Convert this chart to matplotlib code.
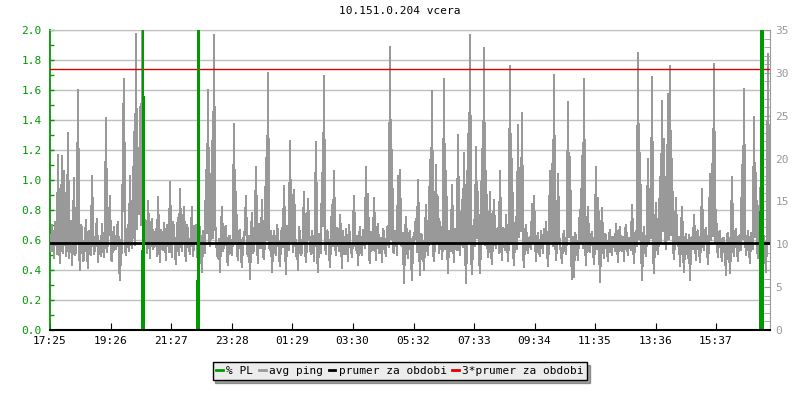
import numpy as np
import matplotlib
matplotlib.use("Agg")
import matplotlib.pyplot as plt
from matplotlib.lines import Line2D
from matplotlib.ticker import MultipleLocator, FormatStrFormatter

# avg ping [ms], one sample every 2 minutes from 17:25
ping = [
    11.0, 9.2, 12.3, 10.5, 8.4, 12.6, 11.6, 8.9, 20.4, 10.2, 7.8, 11.4, 20.3, 9.0, 18.5, 12.1, 8.6, 10.0, 23.0, 8.4,
    10.1, 12.7, 7.6, 10.9, 17.7, 8.7, 9.4, 11.8, 28.0, 9.9, 7.0, 12.2, 11.9, 8.1, 8.3, 10.6, 12.8, 9.3, 7.2, 11.5,
    10.6, 8.8, 18.0, 11.2, 8.9, 9.7, 11.7, 12.9, 7.9, 10.4, 10.2, 8.6, 12.4, 9.8, 8.5, 11.3, 24.7, 9.1, 10.8, 12.0,
    15.6, 8.3, 8.1, 10.7, 12.0, 9.4, 9.5, 11.9, 12.6, 8.0, 5.8, 10.5, 9.0, 21.7, 29.3, 9.6, 8.7, 11.1, 12.2, 9.2,
    18.0, 10.3, 9.6, 12.4, 23.1, 9.9, 34.5, 11.8, 18.0, 13.5, 26.0, 12.2, 35.0, 10.9, 9.3, 12.8, 11.6, 9.0, 15.0, 11.4,
    8.4, 12.1, 13.0, 9.5, 9.8, 11.0, 11.8, 8.6, 15.5, 10.2, 7.9, 11.7, 11.2, 9.3, 12.5, 10.6, 8.2, 12.3, 10.7, 9.1,
    17.3, 10.1, 8.5, 12.6, 11.9, 9.0, 7.7, 11.5, 13.1, 8.8, 16.5, 10.4, 9.2, 11.8, 14.4, 9.7, 8.0, 12.3, 11.3, 9.5,
    8.9, 11.1, 14.4, 8.6, 10.5, 12.0, 12.2, 9.1, 8.1, 10.8, 12.0, 9.4, 6.8, 11.6, 10.8, 9.0, 18.7, 11.3, 28.0, 10.2,
    9.8, 11.9, 22.0, 10.7, 34.4, 12.5, 11.0, 8.9, 8.4, 10.6, 6.8, 11.4, 14.3, 9.2, 9.9, 12.0, 12.1, 8.5, 7.6, 10.9,
    10.9, 9.4, 8.7, 11.6, 24.0, 10.0, 16.1, 9.3, 8.2, 11.5, 11.7, 8.8, 7.4, 10.7, 10.3, 12.2, 15.6, 9.1, 8.6, 11.0,
    6.0, 10.8, 13.7, 9.0, 9.5, 11.7, 19.0, 10.3, 7.8, 12.4, 11.0, 9.6, 15.2, 8.7, 8.3, 11.2, 20.1, 10.5, 30.0, 9.8,
    9.4, 11.6, 6.8, 10.1, 11.6, 9.2, 8.8, 12.3, 11.2, 8.9, 7.5, 11.0, 11.9, 9.7, 16.8, 10.6, 6.5, 12.1, 10.4, 9.3,
    22.0, 10.4, 15.7, 9.1, 16.3, 11.8, 8.6, 10.2, 7.0, 12.0, 11.1, 8.8, 9.1, 11.4, 16.1, 9.6, 7.9, 10.9, 15.3, 11.7,
    9.6, 8.9, 11.5, 10.3, 8.1, 12.4, 21.9, 9.5, 6.8, 11.2, 10.7, 9.0, 18.3, 12.1, 29.6, 10.0, 8.9, 11.6, 11.3, 9.4,
    7.4, 11.1, 14.6, 9.8, 18.5, 10.4, 8.7, 11.9, 10.6, 9.2, 13.4, 10.8, 7.2, 11.5, 10.0, 8.9, 11.8, 10.1, 8.0, 12.2,
    10.3, 9.5, 8.5, 11.3, 15.6, 10.6, 9.3, 11.0, 7.6, 10.5, 12.0, 9.1, 8.8, 11.7, 10.8, 9.6, 19.0, 10.2, 15.9, 8.7,
    7.8, 11.4, 10.5, 9.3, 15.4, 10.9, 8.2, 11.6, 12.4, 9.0, 9.5, 10.7, 7.9, 11.8, 11.2, 9.4, 8.6, 12.0, 12.1, 9.7,
    33.0, 10.6, 21.0, 9.2, 9.0, 11.5, 11.4, 8.8, 18.0, 10.3, 18.7, 9.9, 9.8, 11.3, 5.5, 10.8, 13.2, 9.6, 8.4, 11.0,
    11.6, 9.3, 5.8, 10.9, 10.2, 12.0, 13.0, 9.1, 17.5, 10.5, 6.4, 11.2, 11.0, 9.6, 7.0, 10.8, 14.6, 9.9, 8.7, 11.7,
    19.8, 10.4, 27.9, 9.4, 8.0, 11.1, 19.2, 10.2, 15.5, 9.0, 12.6, 11.3, 8.3, 10.6, 29.3, 9.5, 18.5, 10.9, 6.6, 11.5,
    10.7, 9.2, 16.9, 10.6, 7.9, 11.8, 11.5, 9.3, 22.7, 10.1, 8.8, 11.6, 15.2, 9.7, 20.6, 10.9, 5.5, 11.4, 22.9, 10.3,
    34.4, 9.6, 6.5, 11.2, 12.8, 9.8, 21.3, 10.7, 16.1, 9.1, 6.6, 11.0, 21.1, 10.4, 32.9, 9.9, 18.5, 11.3, 8.5, 10.0,
    16.1, 9.5, 7.7, 11.4, 15.2, 10.2, 9.6, 11.7, 11.9, 9.0, 18.5, 10.6, 8.2, 11.9, 11.1, 9.3, 13.4, 10.5, 8.1, 11.2,
    30.8, 10.0, 20.0, 9.7, 7.6, 11.5, 13.2, 9.4, 23.9, 10.8, 18.1, 11.6, 25.3, 9.2, 7.4, 11.0, 12.3, 9.8, 9.0, 10.7,
    10.8, 9.4, 14.7, 10.1, 15.6, 11.0, 8.0, 10.6, 11.3, 9.2, 8.6, 11.5, 10.4, 9.0, 11.8, 10.3, 12.6, 9.7, 7.5, 11.1,
    18.5, 10.4, 19.4, 9.8, 29.7, 11.3, 8.2, 10.0, 18.2, 11.2, 9.7, 9.3, 7.8, 10.7, 11.6, 9.5, 8.9, 11.4, 26.6, 10.9,
    20.2, 9.9, 6.0, 10.8, 6.2, 11.3, 10.9, 9.5, 8.2, 11.7, 14.0, 10.2, 20.3, 9.6, 29.3, 10.5, 7.6, 11.4, 14.4, 9.3,
    9.1, 11.0, 11.4, 9.8, 7.7, 10.6, 19.0, 9.4, 15.4, 11.1, 5.6, 10.3, 14.2, 9.7, 8.4, 11.2, 11.0, 9.5, 8.0, 10.8,
    11.7, 9.6, 8.8, 10.9, 10.3, 9.2, 12.4, 10.4, 7.9, 11.3, 12.0, 9.5, 9.2, 10.8, 8.1, 11.6, 12.2, 9.9, 8.7, 10.7,
    10.6, 9.3, 14.6, 10.5, 7.8, 11.2, 11.5, 9.8, 32.3, 10.6, 20.7, 11.0, 5.8, 10.2, 12.0, 9.4, 8.6, 11.5, 20.0, 10.1,
    16.5, 10.7, 29.5, 9.6, 6.6, 11.4, 14.8, 10.0, 8.9, 11.2, 17.8, 10.3, 26.7, 11.5, 22.3, 10.8, 9.5, 11.9, 27.5, 10.6,
    30.8, 11.1, 20.0, 9.9, 8.3, 11.3, 15.4, 10.2, 9.8, 10.9, 7.5, 11.0, 14.4, 9.7, 6.8, 10.5, 11.2, 9.4, 8.4, 11.1,
    5.8, 10.6, 10.8, 9.5, 13.4, 10.1, 8.2, 11.2, 11.6, 9.7, 7.9, 10.9, 16.5, 10.2, 9.3, 11.5, 11.9, 9.6, 7.7, 10.8,
    18.2, 10.5, 19.4, 11.0, 31.0, 10.3, 14.0, 9.8, 8.5, 11.4, 11.5, 9.2, 8.0, 10.7, 10.7, 9.5, 6.4, 11.1, 11.3, 9.9,
    6.6, 10.4, 17.9, 9.7, 8.6, 11.2, 11.8, 9.5, 8.1, 10.9, 11.1, 9.3, 19.2, 10.6, 28.1, 11.0, 8.8, 10.2, 11.6, 9.6,
    7.8, 11.3, 10.4, 9.4, 24.9, 10.8, 18.3, 9.9, 8.4, 11.2, 16.6, 10.0, 7.3, 10.7, 10.9, 9.5, 6.8, 11.4, 32.2, 10.3,
    21.0,
]
minutes = np.arange(len(ping)) * 2

# packet loss [%]
pl_minutes = [0, 185, 186, 186, 187, 295, 296, 297, 297, 298, 1421, 1423, 1424, 1425, 1426, 1440]
pl_values = [0, 0, 1.0, 3.0, 0, 0, 0.62, 1.0, 3.0, 0, 0, 3.0, 3.0, 3.0, 0, 0]

prumer = 10.15  # prumer za obdobi [ms]

tick_labels = ["17:25", "19:26", "21:27", "23:28", "01:29", "03:30",
               "05:32", "07:33", "09:34", "11:35", "13:36", "15:37"]
tick_minutes = [(int(t[:2]) * 60 + int(t[3:]) - (17 * 60 + 25)) % 1440 for t in tick_labels]

GREEN = "#009900"
GRAY = "#999999"
GRID = "#c0c0c0"
plt.rcParams["font.family"] = "DejaVu Sans Mono"
plt.rcParams["font.size"] = 8

fig = plt.figure(figsize=(8, 4), dpi=100)
ax = fig.add_axes([0.0625, 0.175, 0.9, 0.75])
ax2 = ax.twinx()
ax3 = ax.twinx()

# left axis: % PL scale, grid
ax.set_xlim(0, 1440)
ax.set_ylim(0, 2.0)
ax.yaxis.set_major_locator(MultipleLocator(0.2))
ax.yaxis.set_minor_locator(MultipleLocator(0.1))
ax.yaxis.set_major_formatter(FormatStrFormatter("%.1f"))
ax.grid(axis="y", color=GRID, linewidth=1)
ax.set_axisbelow(True)
ax.tick_params(axis="y", which="both", direction="in", length=3, color=GREEN,
               labelcolor=GREEN, width=1, pad=6)
ax.set_xticks(tick_minutes)
ax.set_xticklabels(tick_labels)
ax.tick_params(axis="x", direction="in", length=5, color="black", pad=4)
ax.spines["left"].set_color(GREEN)
ax.spines["left"].set_linewidth(1.3)
ax.spines["top"].set_color(GRID)
ax.spines["right"].set_visible(False)
ax.spines["bottom"].set_visible(False)

# right axis: ping in ms
ax2.set_ylim(0, 35)
ax2.plot(minutes, ping, color=GRAY, linewidth=0.9, antialiased=False)
ax2.axhline(prumer, color="black", linewidth=2)
ax2.axhline(3 * prumer, color="#dd0000", linewidth=1)
ax2.yaxis.set_major_locator(MultipleLocator(5))
ax2.yaxis.set_minor_locator(MultipleLocator(1))
ax2.tick_params(axis="y", which="both", direction="in", length=4, color=GRAY,
                labelcolor=GRAY, pad=4)
for s in ["left", "top", "bottom"]:
    ax2.spines[s].set_visible(False)
ax2.spines["right"].set_color(GRAY)

# packet loss on top
ax3.set_ylim(0, 2.0)
ax3.plot(pl_minutes, pl_values, color=GREEN, linewidth=1.1, antialiased=False)
ax3.set_yticks([])
for s in ["left", "top", "right"]:
    ax3.spines[s].set_visible(False)
ax3.spines["bottom"].set_color("black")
ax3.spines["bottom"].set_linewidth(1.5)
ax3.spines["bottom"].set_zorder(5)

fig.suptitle("10.151.0.204 vcera", y=0.985, fontsize=8)

handles = [Line2D([], [], color=GREEN, linewidth=2),
           Line2D([], [], color=GRAY, linewidth=2),
           Line2D([], [], color="black", linewidth=2),
           Line2D([], [], color="#dd0000", linewidth=2)]
labels = ["% PL", "avg ping", "prumer za obdobi", "3*prumer za obdobi"]
leg = fig.legend(handles, labels, loc="center", bbox_to_anchor=(0.5, 0.072), ncol=4,
                 frameon=True, fancybox=False, shadow=True, edgecolor="black",
                 facecolor="#ececec", handlelength=0.6, handletextpad=0.3,
                 columnspacing=0.5, borderpad=0.35, fontsize=8)
leg.get_frame().set_linewidth(1)

fig.savefig("out.png", dpi=100)
